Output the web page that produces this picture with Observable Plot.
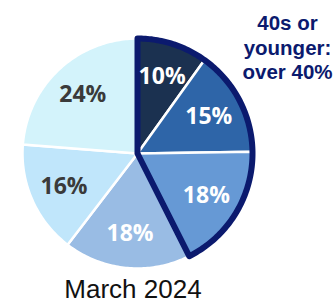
<!DOCTYPE html>
<html><head><meta charset="utf-8">
<script src="https://cdn.jsdelivr.net/npm/d3@7"></script>
<script src="https://cdn.jsdelivr.net/npm/@observablehq/plot@0.6"></script>
<style>
html,body{margin:0;padding:0;background:#fff;overflow:hidden}
#chart{width:333px;height:304px;position:relative}
#caption{font-family:"Liberation Sans",Arial,sans-serif;font-size:26px;line-height:24px;height:24px;width:266px;text-align:center;color:#111;white-space:nowrap}
</style></head><body><div id="chart"></div>
<script>
const categories = ["20s or younger", "30s", "40s", "50s", "60s", "70s or older"];
const shares = [10, 15, 18, 18, 16, 24];
const labels = ["10%", "15%", "18%", "18%", "16%", "24%"];
const colors = ["#1b3150", "#2e65a8", "#6699d5", "#99bce4", "#c0e6fb", "#d3f3fb"];
const highlighted = ["20s or younger", "30s", "40s"];
const annotation = "40s or\nyounger:\nover 40%";
const captionText = "March 2024";

const rows = categories.map((c, i) => ({category: c, share: shares[i], label: labels[i], color: colors[i]}));
const arcs = d3.pie().sort(null).value(d => d.share)(rows);

const R = 1;
function arcPoints(a0, a1, r) {
  const n = Math.max(2, Math.ceil((a1 - a0) / (Math.PI / 180)));
  return d3.range(n + 1).map(k => {
    const a = a0 + (a1 - a0) * k / n;
    return [r * Math.sin(a), r * Math.cos(a)];
  });
}

const slicePts = arcs.flatMap(a => {
  const pts = [[0, 0], ...arcPoints(a.startAngle, a.endAngle, R)];
  return pts.map(([x, y]) => ({category: a.data.category, x, y}));
});

const hl = arcs.filter(a => highlighted.includes(a.data.category));
const h0 = d3.min(hl, a => a.startAngle), h1 = d3.max(hl, a => a.endAngle), hm = (h0 + h1) / 2;
const outlinePts = [...arcPoints(hm, h1, R), [0, 0], ...arcPoints(h0, hm, R)].map(([x, y]) => ({x, y}));

const labelR = 0.7;
const labelData = arcs.map(a => {
  const m = (a.startAngle + a.endAngle) / 2;
  return {x: labelR * Math.sin(m), y: labelR * Math.cos(m), label: a.data.label, dark: d3.lab(a.data.color).l > 85};
});

const ink = "#0b1a6e";
const chart = Plot.plot({
  width: 333,
  height: 277,
  margin: 0,
  x: {domain: [-1, 1], range: [22, 252], axis: null},
  y: {domain: [-1, 1], range: [268, 38], axis: null},
  color: {domain: categories, range: colors},
  style: {background: "#fff"},
  marks: [
    Plot.line(slicePts, {x: "x", y: "y", z: "category", fill: "category", stroke: "#fff", strokeWidth: 2.5, strokeLinejoin: "round", curve: "linear-closed"}),
    Plot.line(outlinePts, {x: "x", y: "y", stroke: ink, strokeWidth: 6, strokeLinejoin: "round", fill: "none", curve: "linear-closed"}),
    Plot.text(labelData.filter(d => !d.dark), {x: "x", y: "y", text: "label", fill: "#fff", fontSize: 23, fontWeight: "bold", fontFamily: "'Open Sans', sans-serif"}),
    Plot.text(labelData.filter(d => d.dark), {x: "x", y: "y", text: "label", fill: "#3a3a3a", fontSize: 23, fontWeight: "bold", fontFamily: "'Open Sans', sans-serif"}),
    Plot.text([annotation], {text: d => d, frameAnchor: "top-right", textAnchor: "middle", lineAnchor: "top", dx: -46, dy: 12, lineHeight: 1.2, fontSize: 20.5, fontWeight: "bold", fill: ink, fontFamily: "'Liberation Sans', Arial, sans-serif"})
  ]
});
const root = document.getElementById("chart");
root.appendChild(chart);
const cap = document.createElement("div");
cap.id = "caption";
cap.textContent = captionText;
root.appendChild(cap);
</script></body></html>
